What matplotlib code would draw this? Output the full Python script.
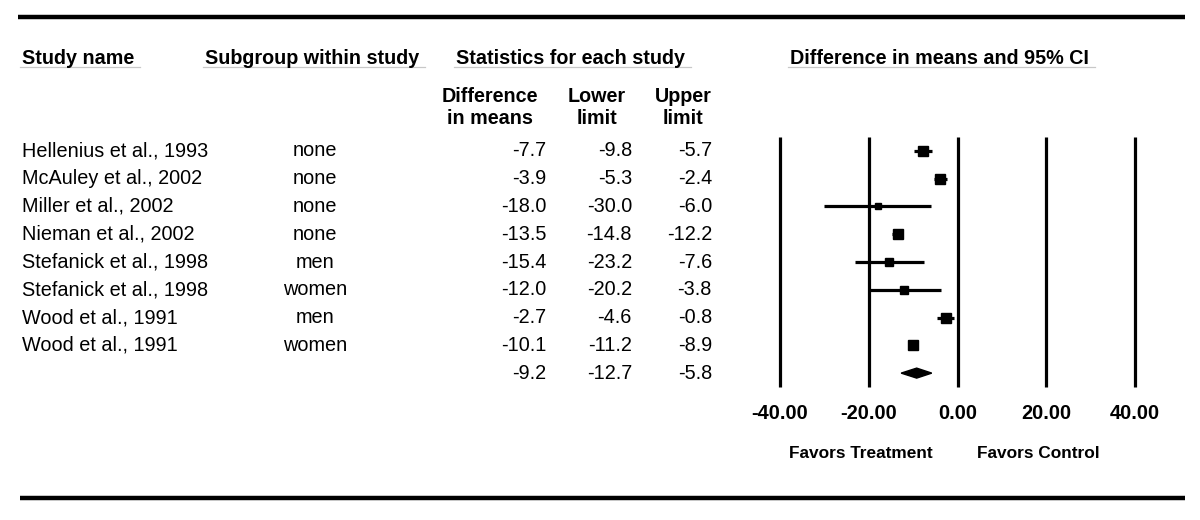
import numpy as np
import matplotlib
matplotlib.use("Agg")
import matplotlib.pyplot as plt
from matplotlib import transforms
from matplotlib.lines import Line2D
from matplotlib.patches import Polygon

plt.rcParams['font.family'] = ['Liberation Sans', 'DejaVu Sans']

# ---------------- data ----------------
studies = ["Hellenius et al., 1993", "McAuley et al., 2002", "Miller et al., 2002",
           "Nieman et al., 2002", "Stefanick et al., 1998", "Stefanick et al., 1998",
           "Wood et al., 1991", "Wood et al., 1991"]
subgroups = ["none", "none", "none", "none", "men", "women", "men", "women"]
diff = [-7.7, -3.9, -18.0, -13.5, -15.4, -12.0, -2.7, -10.1]
lower = [-9.8, -5.3, -30.0, -14.8, -23.2, -20.2, -4.6, -11.2]
upper = [-5.7, -2.4, -6.0, -12.2, -7.6, -3.8, -0.8, -8.9]
summary_diff = -9.2
summary_lower = -12.7
summary_upper = -5.8
xticks = [-40, -20, 0, 20, 40]
headers = ["Study name", "Subgroup within study", "Statistics for each study",
           "Difference in means and 95% CI"]
col_heads = [("Difference", "in means"), ("Lower", "limit"), ("Upper", "limit")]
favors = ["Favors Treatment", "Favors Control"]

# ---------------- figure ----------------
W, H = 1200, 520
fig = plt.figure(figsize=(W / 100, H / 100), dpi=100)

def fx(px):
    return px / W

def fy(py):
    return 1 - py / H

n = len(studies)
nrows = n + 1
# forest axes: x -40 at px 780, 40 at px 1135 ; rows from y=137 to 387
ax = fig.add_axes([fx(780), fy(387), fx(1135) - fx(780), (387 - 137) / H])
ax.set_xlim(-40, 40)
ax.set_ylim(nrows - 0.5, -0.5)
for s in ax.spines.values():
    s.set_visible(False)
ax.set_yticks([])
ax.set_xticks(xticks)
ax.set_xticklabels([f"{t:.2f}" for t in xticks], fontsize=14.4, fontweight='bold')
ax.tick_params(axis='x', length=0, pad=12)
ax.patch.set_visible(False)

# reference lines
ax.vlines(xticks, -0.5, nrows - 0.5, color='black', lw=2.3, clip_on=False)

# random-effects weights (DerSimonian-Laird) for box sizes
d = np.array(diff)
se = (np.array(upper) - np.array(lower)) / (2 * 1.96)
wf = 1 / se ** 2
ybar = np.sum(wf * d) / np.sum(wf)
Q = np.sum(wf * (d - ybar) ** 2)
C = np.sum(wf) - np.sum(wf ** 2) / np.sum(wf)
tau2 = max(0.0, (Q - (n - 1)) / C)
wr = 1 / (se ** 2 + tau2)
box = 7.8 * np.sqrt(wr / wr.max())

for i in range(n):
    ax.plot([lower[i], upper[i]], [i, i], color='black', lw=2.3,
            solid_capstyle='butt', clip_on=False)
    ax.plot([diff[i]], [i], marker='s', ms=box[i], color='black', mec='black', clip_on=False)

# summary diamond
hh = 0.18
ax.add_patch(Polygon([[summary_lower, n], [summary_diff, n - hh],
                      [summary_upper, n], [summary_diff, n + hh]],
                     closed=True, color='black', clip_on=False))

# favors labels
trans_fav = transforms.blended_transform_factory(ax.transData, fig.transFigure)
ax.text(-21.8, fy(453), favors[0], transform=trans_fav, ha='center', va='center',
        fontsize=12.4, fontweight='bold')
ax.text(18.3, fy(453), favors[1], transform=trans_fav, ha='center', va='center',
        fontsize=12.4, fontweight='bold')

# ---------------- table text ----------------
trow = transforms.blended_transform_factory(fig.transFigure, ax.transData)
fs = 14.3
for i in range(n):
    fig.text(fx(22), i, studies[i], transform=trow, ha='left', va='center', fontsize=fs)
    fig.text(fx(315), i, subgroups[i], transform=trow, ha='center', va='center', fontsize=fs)
    fig.text(fx(546), i, f"{diff[i]:.1f}", transform=trow, ha='right', va='center', fontsize=fs)
    fig.text(fx(632), i, f"{lower[i]:.1f}", transform=trow, ha='right', va='center', fontsize=fs)
    fig.text(fx(712), i, f"{upper[i]:.1f}", transform=trow, ha='right', va='center', fontsize=fs)
fig.text(fx(546), n, f"{summary_diff:.1f}", transform=trow, ha='right', va='center', fontsize=fs)
fig.text(fx(632), n, f"{summary_lower:.1f}", transform=trow, ha='right', va='center', fontsize=fs)
fig.text(fx(712), n, f"{summary_upper:.1f}", transform=trow, ha='right', va='center', fontsize=fs)

# headers
head_x = [22, 205, 456, 790]
head_objs = []
for hx, htxt in zip(head_x, headers):
    head_objs.append(fig.text(fx(hx), fy(58), htxt, ha='left', va='center',
                              fontsize=14.2, fontweight='bold'))
col_cx = [490, 597, 683]
for cx, (l1, l2) in zip(col_cx, col_heads):
    fig.text(fx(cx), fy(96), l1, ha='center', va='center', fontsize=14.2, fontweight='bold')
    fig.text(fx(cx), fy(118), l2, ha='center', va='center', fontsize=14.2, fontweight='bold')

# header underlines (thin gray)
fig.canvas.draw()
rend = fig.canvas.get_renderer()
for t in head_objs:
    bb = t.get_window_extent(rend)
    fig.add_artist(Line2D([bb.x0 / W - fx(2), bb.x1 / W + fx(6)], [fy(67), fy(67)],
                          transform=fig.transFigure, color='#c8c8c8', lw=0.9))

# top & bottom rules
fig.add_artist(Line2D([fx(18), fx(1185)], [fy(17), fy(17)], transform=fig.transFigure,
                      color='black', lw=3.2, solid_capstyle='butt'))
fig.add_artist(Line2D([fx(20), fx(1185)], [fy(498), fy(498)], transform=fig.transFigure,
                      color='black', lw=3.2, solid_capstyle='butt'))

fig.savefig("out.png", dpi=100, facecolor='white')
